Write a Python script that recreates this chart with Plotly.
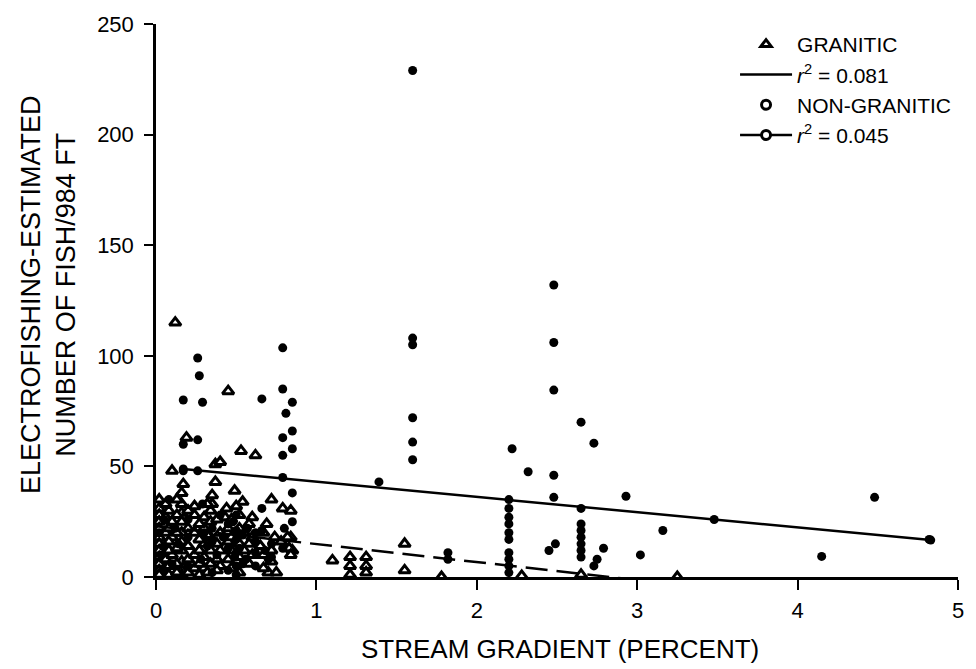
import plotly.graph_objects as go

# ---------------- data ----------------
# Granitic streams (triangles)
gran_x = [0.12, 0.45, 0.10, 0.19, 0.53, 0.62, 0.37, 0.40, 0.17, 0.37, 0.35, 0.35,
          0.49, 0.54, 0.50, 0.44, 0.43, 0.24, 0.72, 0.60, 0.69, 0.79, 0.84, 0.84,
          0.85, 0.74, 0.78, 0.82, 0.83, 0.84, 0.70, 0.75, 1.10, 1.21, 1.21, 1.21,
          1.31, 1.31, 1.31, 1.55, 1.55, 1.78, 2.65, 3.25, 2.28,
          0.02, 0.02, 0.02, 0.02, 0.02, 0.02, 0.02, 0.02, 0.02, 0.02, 0.02, 0.02,
          0.06, 0.06, 0.06, 0.06, 0.06, 0.06,
          0.10, 0.10, 0.10, 0.10,
          0.16, 0.16, 0.16, 0.16, 0.16, 0.16, 0.16, 0.16, 0.16, 0.16,
          0.20, 0.20, 0.20, 0.20, 0.20,
          0.24, 0.24, 0.24, 0.24,
          0.30, 0.30, 0.30, 0.30, 0.30,
          0.34, 0.34, 0.34, 0.34, 0.34,
          0.40, 0.40, 0.40,
          0.45, 0.45, 0.45,
          0.55, 0.55, 0.60, 0.60, 0.65,
          0.08, 0.08, 0.08, 0.08, 0.08, 0.08,
          0.13, 0.13, 0.13, 0.13, 0.13, 0.13,
          0.27, 0.27, 0.27, 0.27, 0.27,
          0.32, 0.32, 0.32,
          0.38, 0.38, 0.38, 0.38,
          0.47, 0.47, 0.47, 0.47,
          0.52, 0.52, 0.52, 0.52, 0.52,
          0.58, 0.58, 0.58,
          0.67, 0.67, 0.67,
          0.72, 0.72]
gran_y = [115, 84, 48, 63, 57, 55, 51, 52, 42, 43, 37, 33,
          39, 34, 32, 31, 27, 32, 35, 27, 24, 31, 30, 18,
          12, 18, 16, 18, 13, 10, 2, 2, 7.5, 9, 5, 1,
          9, 5, 2, 15, 3, 0, 1, 0, 0.5,
          35, 31, 28, 25, 22, 18, 15, 12, 9, 6, 3, 1,
          33, 27, 20, 14, 8, 4,
          25, 18, 10, 3,
          38, 33, 29, 25, 20, 16, 12, 7, 3, 1,
          30, 22, 14, 8, 2,
          28, 20, 10, 4,
          27, 22, 15, 9, 4,
          30, 25, 18, 12, 6,
          20, 12, 5,
          22, 16, 8,
          20, 12, 18, 10, 14,
          30, 22, 16, 12, 5, 1,
          35, 28, 20, 13, 6, 2,
          24, 17, 12, 6, 1,
          33, 19, 2,
          26, 15, 8, 3,
          26, 18, 12, 4,
          28, 22, 15, 9, 2,
          24, 15, 6,
          20, 10, 4,
          12, 7]

# Non-granitic streams (filled circles)
nong_x = [0.26, 0.27, 0.17, 0.29, 0.66, 0.79, 0.79, 0.85, 0.81, 0.85, 0.79, 0.85,
          0.79, 0.79, 0.85, 0.85, 0.80, 0.26, 0.17, 0.17, 0.26, 0.29, 0.66, 0.66,
          0.62, 0.62, 0.79,
          0.48, 0.50, 0.50, 0.52, 0.49, 0.50, 0.30, 0.32, 0.28, 0.12, 0.14, 0.10,
          0.02, 0.03, 0.40, 0.42, 0.38, 0.57, 0.56, 0.68, 0.70,
          0.05, 0.05, 0.05, 0.20, 0.20, 0.20, 0.35, 0.35, 0.35, 0.45, 0.45, 0.45,
          0.50, 0.50, 0.50, 0.54, 0.54, 0.62, 0.62, 0.72, 0.72, 0.08,
          1.39, 1.60, 1.60, 1.60, 1.60, 1.60, 1.60, 1.82, 1.82,
          2.20, 2.20, 2.20, 2.20, 2.20, 2.20, 2.20, 2.20, 2.20, 2.20,
          2.22, 2.32, 2.48, 2.48, 2.48, 2.48, 2.48, 2.45, 2.49,
          2.65, 2.65, 2.65, 2.65, 2.65, 2.65, 2.65, 2.65,
          2.73, 2.79, 2.75, 2.73, 2.93, 3.16, 3.02, 3.48, 4.15, 4.48, 4.82]
nong_y = [99, 91, 80, 79, 80.5, 103.6, 85, 79, 74, 66, 63, 58,
          55, 45, 38, 25, 22, 62, 60, 48, 48, 33, 31, 21,
          16, 11, 13,
          25, 21, 17, 13, 9, 5, 20, 14, 8, 22, 15, 6,
          20, 10, 28, 18, 10, 22, 8, 12, 8,
          26, 14, 3, 26, 18, 5, 22, 16, 2, 24, 13, 3,
          28, 11, 1, 19, 6, 20, 5, 15, 9, 35,
          43, 229, 108, 105, 72, 61, 53, 11, 8,
          35, 31, 27, 24, 20, 17, 11, 8, 5, 2,
          58, 47.6, 132, 106, 84.5, 46, 36, 12, 15,
          70, 31, 24, 21, 18, 15, 12, 9,
          60.5, 13, 8, 5, 36.5, 21, 10, 26, 9.3, 36, 17]

# Regression lines
gran_fit_x = [0.0, 3.2]
gran_fit_y = [23.0, -3.0]
nong_fit_x = [0.17, 4.83]
nong_fit_y = [48.8, 16.7]

x_ticks = [0, 1, 2, 3, 4, 5]
y_ticks = [0, 50, 100, 150, 200, 250]

legend_names = ["GRANITIC", "<i>r</i><sup>2</sup> = 0.081",
                "NON-GRANITIC", "<i>r</i><sup>2</sup> = 0.045"]

FONT = "Liberation Sans, Arial, Helvetica, sans-serif"

fig = go.Figure()

# data marks
fig.add_trace(go.Scatter(x=gran_x, y=gran_y, mode="markers", showlegend=False,
                         marker=dict(symbol="triangle-up", size=10, color="white",
                                     line=dict(color="black", width=3))))
fig.add_trace(go.Scatter(x=nong_x, y=nong_y, mode="markers", showlegend=False,
                         marker=dict(symbol="circle", size=9, color="black",
                                     line=dict(color="black", width=0))))
fig.add_trace(go.Scatter(x=gran_fit_x, y=gran_fit_y, mode="lines", showlegend=False,
                         line=dict(color="black", width=2.5, dash="22px,9px")))
fig.add_trace(go.Scatter(x=nong_fit_x, y=nong_fit_y, mode="lines+markers", showlegend=False,
                         line=dict(color="black", width=2.5),
                         marker=dict(symbol="circle", size=9, color="black")))

# legend entries
fig.add_trace(go.Scatter(x=[None], y=[None], mode="markers", name=legend_names[0],
                         legendgroup="a",
                         marker=dict(symbol="triangle-up", size=9, color="white",
                                     line=dict(color="black", width=3))))
fig.add_trace(go.Scatter(x=[None], y=[None], mode="lines", name=legend_names[1],
                         legendgroup="b", line=dict(color="black", width=2.5)))
fig.add_trace(go.Scatter(x=[None], y=[None], mode="markers", name=legend_names[2],
                         legendgroup="c",
                         marker=dict(symbol="circle", size=9, color="white",
                                     line=dict(color="black", width=3))))
fig.add_trace(go.Scatter(x=[None], y=[None], mode="lines+markers", name=legend_names[3],
                         legendgroup="d", line=dict(color="black", width=2.5),
                         marker=dict(symbol="circle", size=9, color="white",
                                     line=dict(color="black", width=3))))

fig.update_layout(
    width=976, height=669,
    margin=dict(l=156, r=12, t=15, b=92),
    paper_bgcolor="white", plot_bgcolor="white",
    font=dict(family=FONT, size=22, color="black"),
    showlegend=True,
    legend=dict(x=0.722, y=1.0, xanchor="left", yanchor="top",
                bgcolor="rgba(0,0,0,0)", traceorder="grouped", tracegroupgap=0,
                font=dict(size=21), itemwidth=52),
    xaxis=dict(range=[0, 5], tickvals=x_ticks, ticktext=[str(v) for v in x_ticks],
               showgrid=False, zeroline=False, showline=True, linecolor="black",
               linewidth=2.5, ticks="outside", ticklen=10, tickwidth=2,
               tickcolor="black", ticklabelstandoff=2,
               tickfont=dict(size=22)),
    yaxis=dict(range=[0, 250], tickvals=y_ticks, ticktext=[str(v) for v in y_ticks],
               showgrid=False, zeroline=False, showline=True, linecolor="black",
               linewidth=2.5, ticks="outside", ticklen=9, tickwidth=2,
               tickcolor="black", ticklabelstandoff=6,
               tickfont=dict(size=22)),
    annotations=[
        dict(text="STREAM GRADIENT (PERCENT)", xref="paper", yref="paper",
             x=0.504, y=-0.131, xanchor="center", yanchor="middle",
             showarrow=False, font=dict(size=26)),
        dict(text="ELECTROFISHING-ESTIMATED<br>NUMBER OF FISH/984 FT",
             xref="paper", yref="paper", x=-0.134, y=0.511, textangle=-90,
             xanchor="center", yanchor="middle", showarrow=False,
             font=dict(size=27)),
    ],
)

fig.write_html("out.html")
